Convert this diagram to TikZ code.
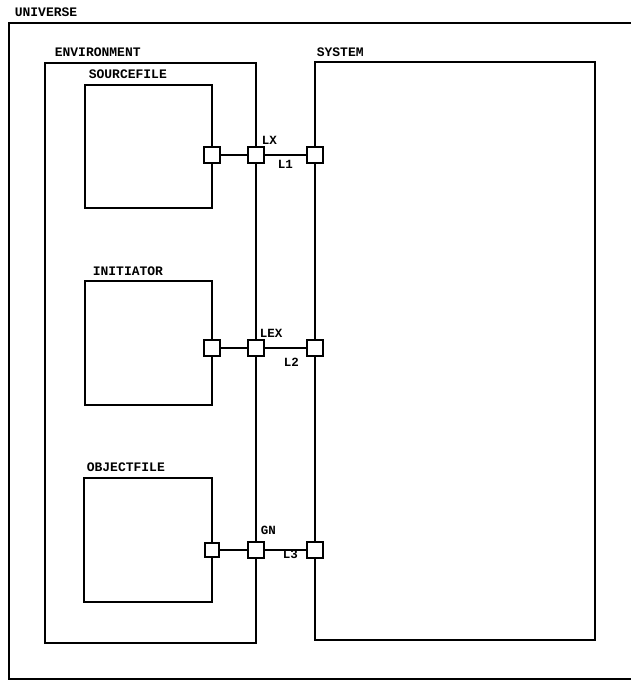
\documentclass[tikz,border=0pt]{standalone}
\usepackage{fontspec}
\setmonofont{Liberation Mono}
\begin{document}
\begin{tikzpicture}[x=1pt,y=-1pt,
  line width=1.6pt,
  lbl/.style={font=\ttfamily\bfseries\fontsize{13}{14}\selectfont, inner sep=0pt, anchor=south west},
  plbl/.style={font=\ttfamily\bfseries\fontsize{12.5}{13}\selectfont, inner sep=0pt, anchor=west},
  box/.style={draw, rectangle, inner sep=0pt, line width=1.6pt},
  port/.style={draw, fill=white, rectangle, minimum size=16pt, inner sep=0pt, line width=1.6pt}]
\useasboundingbox (0,0) rectangle (631,680);
% universe (right side beyond the picture edge)
\draw (631,23) -- (9,23) -- (9,679) -- (631,679);
\node[lbl] (tuni) at (14,17) {UNIVERSE};
% environment and system
\node[box, minimum width=211pt, minimum height=580pt] (env) at (150.5,353) {};
\node[lbl] (tenv) at (54,57) {ENVIRONMENT};
\node[box, minimum width=280pt, minimum height=578pt] (sys) at (455,351) {};
\node[lbl] (tsys) at (316,57) {SYSTEM};
% inner components
\node[box, minimum width=127pt, minimum height=123pt] (src) at (148.5,146.5) {};
\node[lbl] (tsrc) at (88,79) {SOURCEFILE};
\node[box, minimum width=127pt, minimum height=124pt] (ini) at (148.5,343) {};
\node[lbl] (tini) at (92,276) {INITIATOR};
\node[box, minimum width=128pt, minimum height=124pt] (obj) at (148,540) {};
\node[lbl] (tobj) at (86,472) {OBJECTFILE};
% ports row 1
\node[port] (a1) at (212,155) {};
\node[port] (b1) at (256,155) {};
\node[port] (c1) at (315,155) {};
% ports row 2
\node[port] (a2) at (212,348) {};
\node[port] (b2) at (256,348) {};
\node[port] (c2) at (315,348) {};
% ports row 3
\node[port, minimum size=14pt] (a3) at (212,550) {};
\node[port] (b3) at (256,550) {};
\node[port] (c3) at (315,550) {};
% links
\draw (a1) -- (b1);
\draw (b1) -- (c1);
\draw (a2) -- (b2);
\draw (b2) -- (c2);
\draw (a3) -- (b3);
\draw (b3) -- (c3);
% port labels
\node[plbl] (lx) at (261,140) {LX};
\node[plbl] (l1) at (277,164) {L1};
\node[plbl] (lex) at (259,333) {LEX};
\node[plbl] (l2) at (283,362) {L2};
\node[plbl] (gn) at (260,530) {GN};
\node[plbl] (l3) at (282,554) {L3};
\end{tikzpicture}
\end{document}
